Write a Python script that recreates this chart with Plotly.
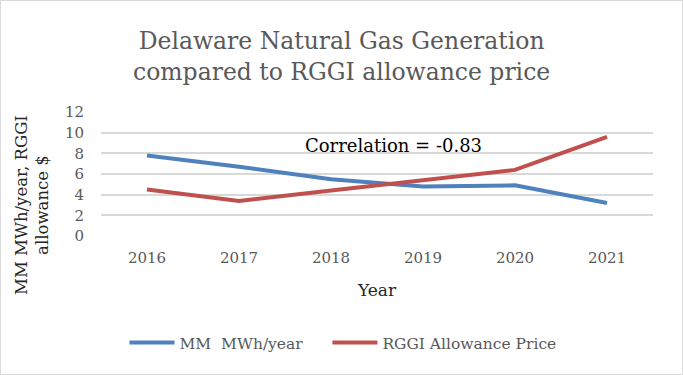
import plotly.graph_objects as go

years = ["2016", "2017", "2018", "2019", "2020", "2021"]
mwh = [7.8, 6.7, 5.5, 4.8, 4.9, 3.2]
rggi = [4.5, 3.4, 4.4, 5.4, 6.4, 9.6]

W, H = 683, 375
L, R, T, B = 101, 30, 112, 139
pw, ph = W - L - R, H - T - B

def px(x):
    return (x - L) / pw

def py(y):
    return (H - B - y) / ph

FONT = "DejaVu Serif"
GRAY = "#595959"

fig = go.Figure()
fig.add_trace(go.Scatter(x=years, y=mwh, mode="lines",
                         name="MM&nbsp; MWh/year&nbsp;&nbsp;&nbsp;&nbsp;",
                         line=dict(color="#4F81BD", width=4)))
fig.add_trace(go.Scatter(x=years, y=rggi, mode="lines", name="RGGI Allowance Price",
                         line=dict(color="#C0504D", width=4)))

fig.update_layout(
    width=W, height=H,
    margin=dict(l=L, r=R, t=T, b=B, autoexpand=False),
    paper_bgcolor="white", plot_bgcolor="white",
    font=dict(family=FONT, color=GRAY, size=15),
    showlegend=True,
    legend=dict(orientation="h", x=px(343), xanchor="center", y=py(343), yanchor="middle",
                font=dict(size=15.5, color=GRAY), itemwidth=45, tracegroupgap=0),
    xaxis=dict(type="category", range=[-0.5, 5.5], showgrid=False, zeroline=False,
               showline=False, tickfont=dict(size=15, color=GRAY), ticklabelstandoff=11),
    yaxis=dict(range=[0, 12], dtick=2, showgrid=True, gridcolor="#D9D9D9", gridwidth=1.5,
               zeroline=False, showline=False, tickfont=dict(size=15, color=GRAY),
               ticklabelstandoff=16),
    annotations=[
        dict(text="Delaware Natural Gas Generation<br>compared to RGGI allowance price",
             xref="paper", yref="paper", x=px(341), y=py(56.5), showarrow=False,
             font=dict(size=23.5, color=GRAY, family=FONT), xanchor="center", yanchor="middle"),
        dict(text="Correlation = -0.83", xref="paper", yref="paper", x=px(393), y=py(145),
             showarrow=False, font=dict(size=18, color="black", family=FONT),
             xanchor="center", yanchor="middle"),
        dict(text="MM MWh/year, RGGI<br>allowance $", xref="paper", yref="paper",
             x=px(32), y=py(205), textangle=-90, showarrow=False,
             font=dict(size=16.5, color="#262626", family=FONT), xanchor="center", yanchor="middle"),
        dict(text="Year", xref="paper", yref="paper", x=px(377), y=py(290), showarrow=False,
             font=dict(size=17, color="#262626", family=FONT), xanchor="center", yanchor="middle"),
    ],
    shapes=[dict(type="rect", xref="paper", yref="paper",
                 x0=px(0.5), x1=px(W - 0.5), y0=py(H - 0.5), y1=py(0.5),
                 line=dict(color="#D9D9D9", width=1), layer="below")],
)

fig.write_html("out.html", config={"displayModeBar": False},
               post_script="document.body.style.margin='0';document.body.style.overflow='hidden';")
